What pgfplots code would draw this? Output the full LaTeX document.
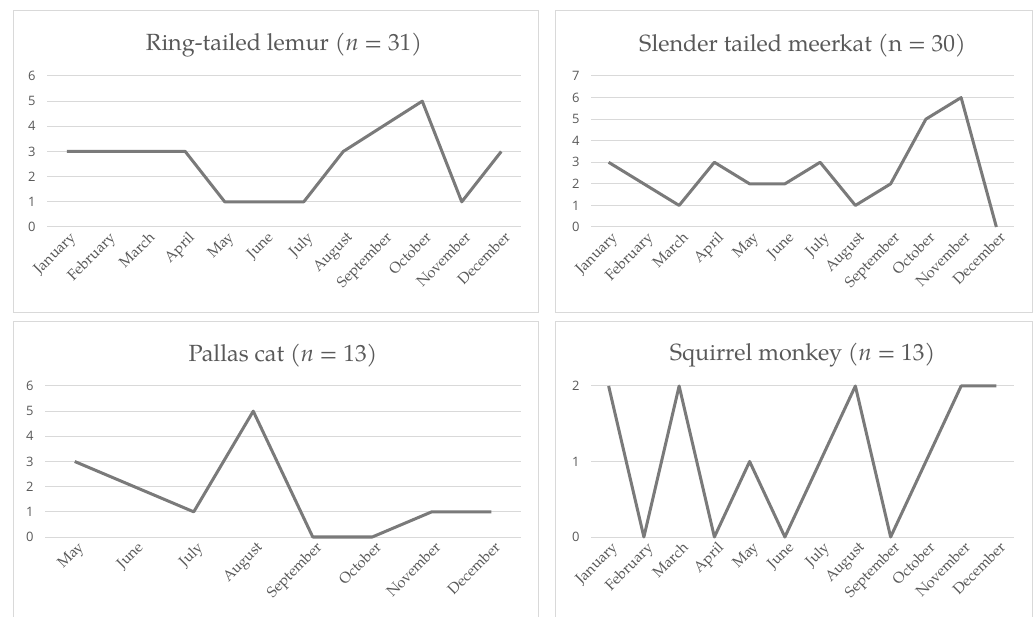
\documentclass[border=0pt]{standalone}
\usepackage{pgfplots}
\pgfplotsset{compat=1.18}
\usepackage{fontspec}
\setmainfont{TeX Gyre Pagella}
\newfontfamily\numfont{Open Sans}

\definecolor{linegray}{HTML}{7A7A7A}
\definecolor{gridgray}{HTML}{D9D9D9}
\definecolor{txtgray}{HTML}{595959}

\pgfplotsset{
  panel/.style={
    scale only axis,
    anchor=south west,
    ymin=0,
    axis line style={draw=none},
    tick style={draw=none},
    ymajorgrids,
    major grid style={gridgray, line width=1bp},
    xtick=data,
    clip=false,
    yticklabel style={font=\numfont\fontsize{13}{13}\selectfont, text=txtgray, anchor=east, xshift=-8bp},
    xticklabel style={font=\fontsize{15}{15}\selectfont, text=txtgray, rotate=45, anchor=north east, inner sep=1bp, yshift=-3bp},
    title style={font=\fontsize{23.5}{23.5}\selectfont, text=txtgray, yshift=9bp},
    every axis plot post/.style={linegray, line width=3bp, line join=round, mark=none},
    /pgf/number format/assume math mode=true,
  },
}

\begin{document}
\begin{tikzpicture}
\useasboundingbox (0bp,0bp) rectangle (1036bp,617bp);
\fill[white] (0bp,0bp) rectangle (1036bp,617bp);
\draw[gridgray, line width=1bp] (13bp,304bp) rectangle (538bp,606bp);
\draw[gridgray, line width=1bp] (555bp,304bp) rectangle (1032bp,606bp);
\draw[gridgray, line width=1bp] (13bp,-5bp) rectangle (538bp,295bp);
\draw[gridgray, line width=1bp] (555bp,-5bp) rectangle (1032bp,295bp);

% Ring-tailed lemur
\begin{axis}[panel, at={(47bp,390bp)}, width=474bp, height=151bp,
  xmin=-0.5, xmax=11.5, ymax=6, ytick={0,...,6},
  xticklabels={January,February,March,April,May,June,July,August,September,October,November,December},
  title={Ring-tailed lemur (\textit{n} = 31)}]
\addplot coordinates {(0,3) (1,3) (2,3) (3,3) (4,1) (5,1) (6,1) (7,3) (8,4) (9,5) (10,1) (11,3)};
\end{axis}

% Slender tailed meerkat
\begin{axis}[panel, at={(591bp,390bp)}, width=423bp, height=151bp,
  xmin=-0.5, xmax=11.5, ymax=7, ytick={0,...,7},
  xticklabels={January,February,March,April,May,June,July,August,September,October,November,December},
  title={Slender tailed meerkat (n = 30)}]
\addplot coordinates {(0,3) (1,2) (2,1) (3,3) (4,2) (5,2) (6,3) (7,1) (8,2) (9,5) (10,6) (11,0)};
\end{axis}

% Pallas cat
\begin{axis}[panel, at={(45bp,80bp)}, width=476bp, height=151bp,
  xmin=-0.5, xmax=7.5, ymax=6, ytick={0,...,6},
  xticklabels={May,June,July,August,September,October,November,December},
  title={Pallas cat (\textit{n} = 13)}]
\addplot coordinates {(0,3) (1,2) (2,1) (3,5) (4,0) (5,0) (6,1) (7,1)};
\end{axis}

% Squirrel monkey
\begin{axis}[panel, at={(591bp,80bp)}, width=423bp, height=151bp,
  xmin=-0.5, xmax=11.5, ymax=2, ytick={0,1,2},
  xticklabels={January,February,March,April,May,June,July,August,September,October,November,December},
  title={Squirrel monkey (\textit{n} = 13)}]
\addplot coordinates {(0,2) (1,0) (2,2) (3,0) (4,1) (5,0) (6,1) (7,2) (8,0) (9,1) (10,2) (11,2)};
\end{axis}
\end{tikzpicture}
\end{document}
